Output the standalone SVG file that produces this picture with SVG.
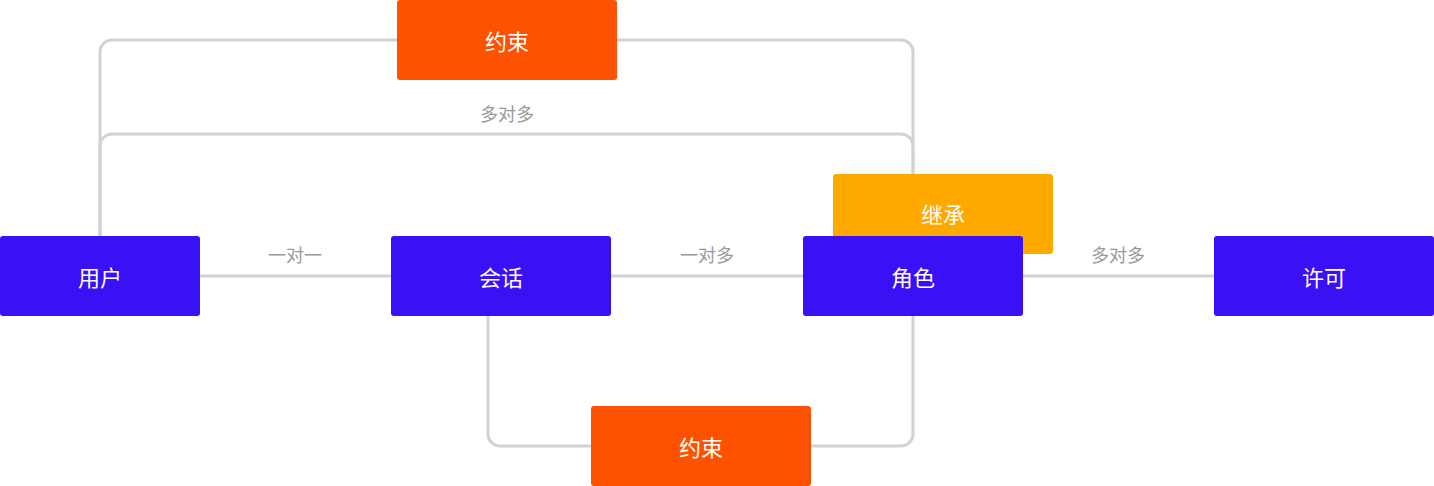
<svg xmlns="http://www.w3.org/2000/svg" width="1434" height="486" viewBox="0 0 1434 486">
<style>
.l{fill:none;stroke:#d2d2d2;stroke-width:3}
.b{fill:#3a10f5}.o{fill:#ff5200}.y{fill:#ffa800}
.t{font-family:"Noto Sans CJK SC",sans-serif;font-size:22px;fill:#fff;text-anchor:middle;dominant-baseline:central}
.lb{font-family:"Noto Sans CJK SC",sans-serif;font-size:18px;fill:#999;text-anchor:middle;dominant-baseline:central}
</style>
<rect width="1434" height="486" fill="#fff"/>
<g id="connectors">
<path class="l" d="M100 236V52a12 12 0 0 1 12-12H397"/>
<path class="l" d="M617 40H901a12 12 0 0 1 12 12V180"/>
<path class="l" d="M100 236V146a12 12 0 0 1 12-12H901a12 12 0 0 1 12 12V180"/>
<path class="l" d="M200 276H391"/>
<path class="l" d="M611 276H803"/>
<path class="l" d="M1023 276H1214"/>
<path class="l" d="M488 316V434a12 12 0 0 0 12 12H591"/>
<path class="l" d="M811 446H901a12 12 0 0 0 12-12V316"/>
<text class="lb" x="295" y="254">一对一</text>
<text class="lb" x="707" y="254">一对多</text>
<text class="lb" x="1118" y="254">多对多</text>
<text class="lb" x="507" y="113">多对多</text>
</g>
<g id="c1"><rect class="o" x="397" y="0" width="220" height="80" rx="3"/><text class="t" x="507" y="40">约束</text></g>
<g id="jc"><rect class="y" x="833" y="174" width="220" height="80" rx="3"/><text class="t" x="943" y="213">继承</text></g>
<g id="user"><rect class="b" x="0" y="236" width="200" height="80" rx="3"/><text class="t" x="100" y="276">用户</text></g>
<g id="sess"><rect class="b" x="391" y="236" width="220" height="80" rx="3"/><text class="t" x="501" y="276">会话</text></g>
<g id="role"><rect class="b" x="803" y="236" width="220" height="80" rx="3"/><text class="t" x="913" y="276">角色</text></g>
<g id="perm"><rect class="b" x="1214" y="236" width="220" height="80" rx="3"/><text class="t" x="1324" y="276">许可</text></g>
<g id="c2"><rect class="o" x="591" y="406" width="220" height="80" rx="3"/><text class="t" x="701" y="446">约束</text></g>
</svg>
